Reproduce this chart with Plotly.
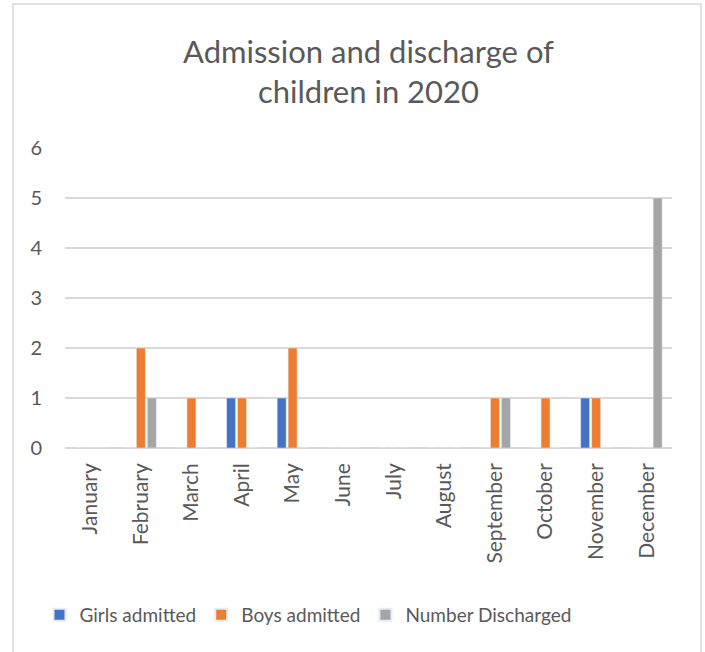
import plotly.graph_objects as go

months = ["January", "February", "March", "April", "May", "June", "July",
          "August", "September", "October", "November", "December"]
girls_admitted = [0, 0, 0, 1, 1, 0, 0, 0, 0, 0, 1, 0]
boys_admitted = [0, 2, 1, 1, 2, 0, 0, 0, 1, 1, 1, 0]
number_discharged = [0, 1, 0, 0, 0, 0, 0, 0, 1, 0, 0, 5]

W, H = 705, 652
ML, MR, MT, MB = 65, 33, 148, 204
PW = W - ML - MR
PH = H - MT - MB

def px(x):
    return (x - ML) / PW

def py(y):
    return (H - MB - y) / PH

FONT = "Lato"
TXT = "#595959"

fig = go.Figure()
fig.add_bar(x=months, y=girls_admitted, name="Girls admitted", marker_color="#4472C4")
fig.add_bar(x=months, y=boys_admitted, name="Boys admitted", marker_color="#ED7D31")
fig.add_bar(x=months, y=number_discharged, name="Number Discharged", marker_color="#A5A5A5")

fig.update_layout(
    width=W, height=H,
    margin=dict(l=ML, r=MR, t=MT, b=MB),
    paper_bgcolor="white", plot_bgcolor="white",
    barmode="group", bargap=0.35, bargroupgap=0.18,
    font=dict(family=FONT, color=TXT, size=18),
    title=dict(text="Admission and discharge of<br>children in 2020",
               x=0.5, xanchor="center", xref="paper",
               y=1 - 63 / H, yanchor="middle", yref="container",
               font=dict(size=31, color=TXT, family=FONT)),
    showlegend=True,
    legend=dict(orientation="h", x=px(308), xanchor="center", y=py(615), yanchor="middle",
                font=dict(size=19, color=TXT), itemsizing="constant",
                traceorder="normal", itemwidth=30),
    xaxis=dict(tickangle=-90, showgrid=False, showline=False, ticks="",
               ticklabelstandoff=10,
               tickfont=dict(size=21, color=TXT)),
    yaxis=dict(range=[0, 6], dtick=1, showgrid=True, gridcolor="#D9D9D9", gridwidth=1.5,
               zeroline=True, zerolinecolor="#D9D9D9", zerolinewidth=1.5,
               showline=False, ticks="", ticklabelstandoff=22,
               tickfont=dict(size=20, color=TXT)),
    shapes=[dict(type="rect", xref="paper", yref="paper",
                 x0=px(13), x1=px(701), y0=py(670), y1=py(4),
                 line=dict(color="#D9D9D9", width=1.5), fillcolor="rgba(0,0,0,0)",
                 layer="below")],
)

fig.write_html("out.html")
